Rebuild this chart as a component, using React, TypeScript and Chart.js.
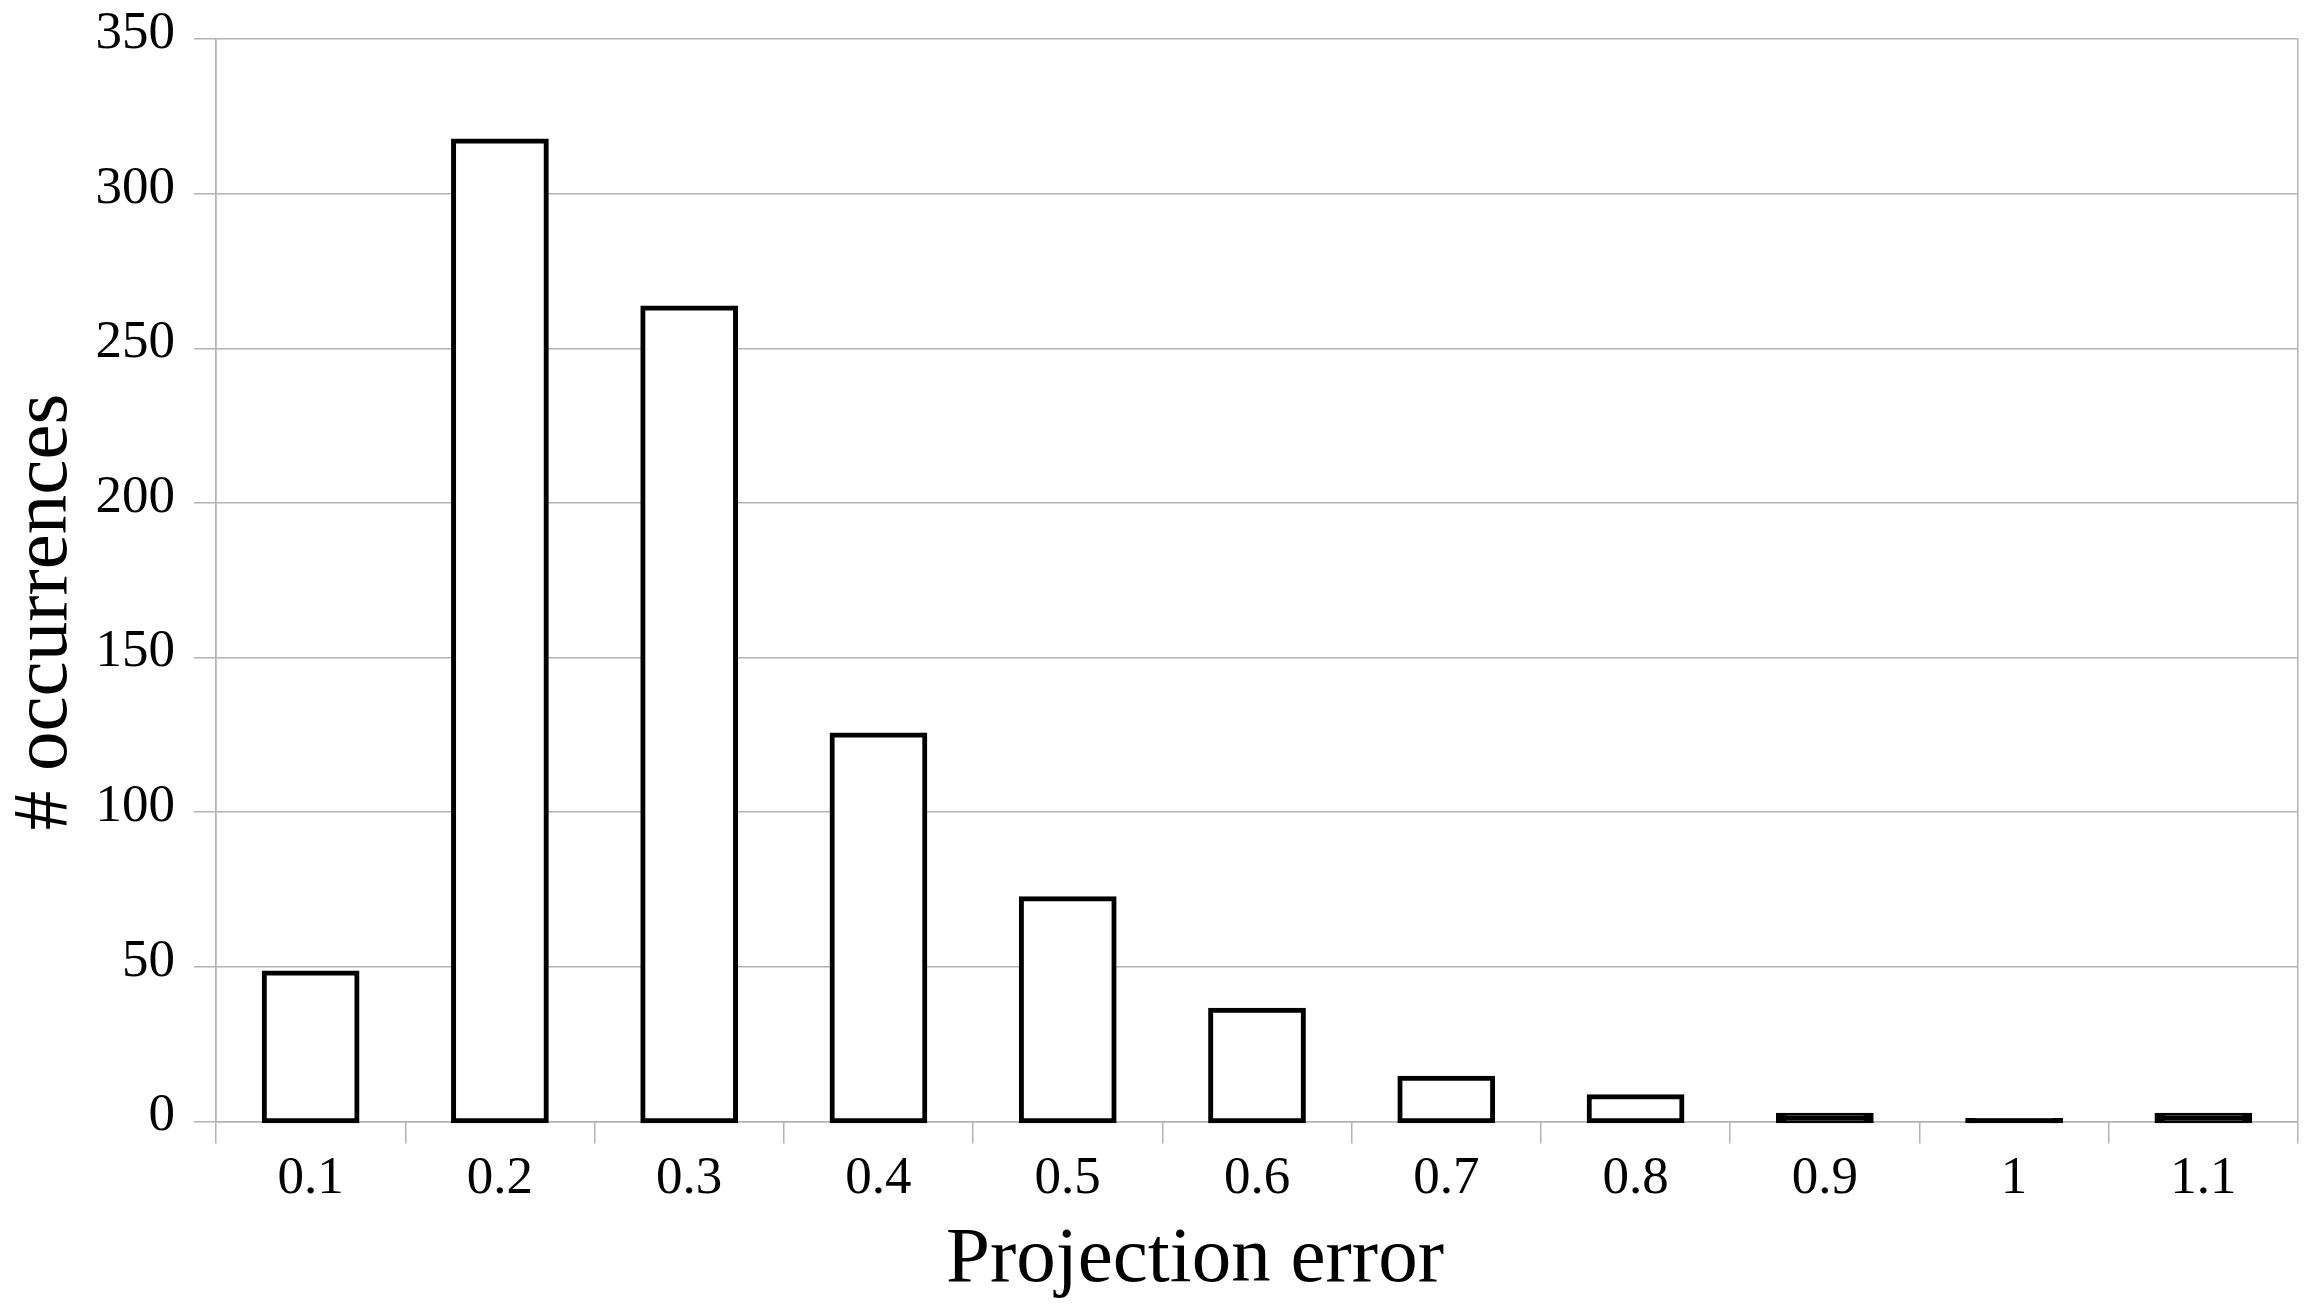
import { useEffect, useRef } from 'react';
import { Chart, registerables } from 'chart.js';

Chart.register(...registerables);

// ---- data ----
const categories = ['0.1', '0.2', '0.3', '0.4', '0.5', '0.6', '0.7', '0.8', '0.9', '1', '1.1'];
const occurrences = [48, 317, 263, 125, 72, 36, 14, 8, 2, 0, 2];
const yMin = 0;
const yMax = 350;
const yStep = 50;
const xTitle = 'Projection error';
const yTitle = '# occurrences';

// ---- style ----
const FONT = '"Liberation Serif", "Times New Roman", serif';
const GRID = '#b3b3b3';
const W = 2320;
const H = 1308;

export default function App() {
  const ref = useRef<HTMLCanvasElement>(null);

  useEffect(() => {
    const canvas = ref.current;
    if (!canvas) return;

    const axisTitles = {
      id: 'axisTitles',
      afterDraw(chart: any) {
        const ctx = chart.ctx as CanvasRenderingContext2D;
        ctx.save();
        ctx.fillStyle = '#000';
        ctx.font = `79px ${FONT}`;
        ctx.textAlign = 'center';
        ctx.textBaseline = 'alphabetic';
        ctx.fillText(xTitle, 1195, 1281);
        ctx.translate(66, 612);
        ctx.rotate(-Math.PI / 2);
        ctx.fillText(yTitle, 0, 0);
        ctx.restore();
      },
    };

    const chart = new Chart(canvas, {
      type: 'bar',
      data: {
        labels: categories,
        datasets: [
          {
            data: occurrences,
            backgroundColor: (c: any) => {
              const ys = c.chart.scales?.y;
              const v = c.raw as number;
              if (!ys || typeof v !== 'number') return '#fff';
              const h = Math.abs(ys.getPixelForValue(0) - ys.getPixelForValue(v));
              return h < 10 ? '#000' : '#fff';
            },
            borderColor: '#000',
            borderWidth: 5,
            borderSkipped: false,
            inflateAmount: 2.5,
            minBarLength: 1,
            barPercentage: 0.49,
            categoryPercentage: 1,
            clip: false,
          } as any,
        ],
      },
      options: {
        responsive: false,
        animation: false,
        devicePixelRatio: 1,
        layout: { padding: { top: 39, right: 22, left: 0, bottom: 0 } },
        plugins: {
          legend: { display: false },
          tooltip: { enabled: false },
          title: { display: false },
        },
        scales: {
          x: {
            type: 'category',
            offset: true,
            grid: {
              offset: true,
              drawOnChartArea: true,
              drawTicks: true,
              tickLength: 22,
              lineWidth: 1.5,
              color: (c: any) => (c.type !== 'tick' || c.index === 0 ? GRID : 'rgba(0,0,0,0)'),
              tickColor: GRID,
            },
            border: { display: true, color: GRID, width: 1.5 },
            ticks: {
              font: { family: FONT, size: 53 },
              color: '#000',
              padding: 4,
              maxRotation: 0,
              autoSkip: false,
            },
            afterFit: (s: any) => {
              s.height = 186.5;
              s.paddingLeft = 0;
              s.paddingRight = 0;
            },
          },
          y: {
            min: yMin,
            max: yMax,
            grid: {
              color: GRID,
              tickColor: GRID,
              tickLength: 22,
              lineWidth: 1.5,
            },
            border: { display: true, color: GRID, width: 1.5 },
            ticks: {
              stepSize: yStep,
              font: { family: FONT, size: 53 },
              color: '#000',
              padding: 19,
              labelOffset: -5,
            },
            afterFit: (s: any) => {
              s.width = 216;
              s.paddingTop = 0;
              s.paddingBottom = 0;
            },
          },
        },
      } as any,
      plugins: [axisTitles],
    });

    return () => chart.destroy();
  }, []);

  return (
    <div style={{ position: 'fixed', left: 0, top: 0, width: W, height: H, background: '#fff' }}>
      <canvas ref={ref} width={W} height={H} style={{ display: 'block', width: W, height: H }} />
    </div>
  );
}
